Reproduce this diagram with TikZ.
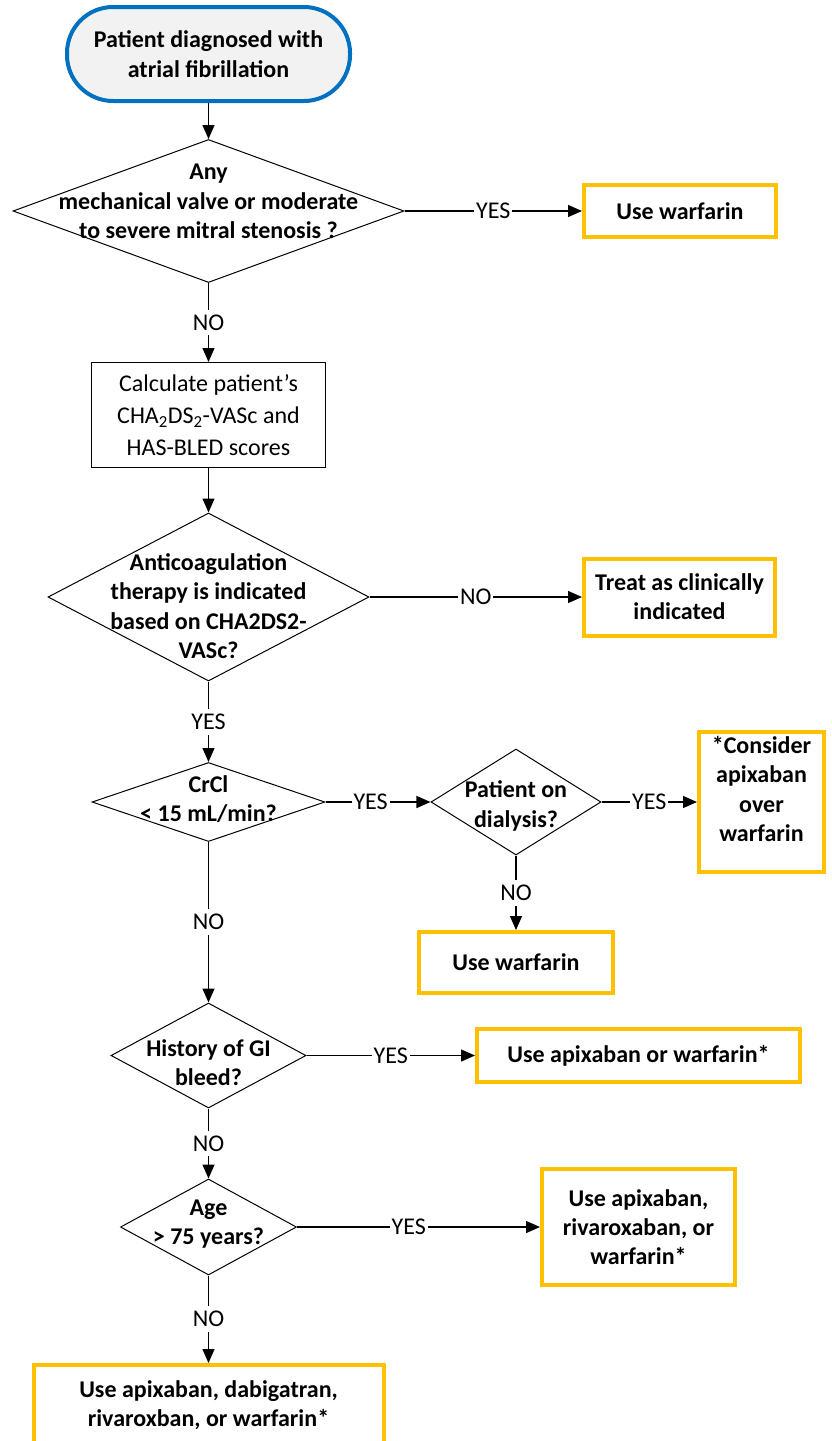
\documentclass[tikz,border=0pt]{standalone}
\usepackage{fontspec}
\setmainfont{Carlito}
\usetikzlibrary{shapes.geometric,arrows.meta}
\definecolor{flowblue}{HTML}{0070C0}
\definecolor{flowgold}{HTML}{FFC000}
\definecolor{startfill}{HTML}{F2F2F2}
\begin{document}
\begin{tikzpicture}[x=1pt,y=-1pt,
  regfont/.style={font=\fontsize{24}{29.3}\selectfont},
  boldfont/.style={font=\fontsize{24}{29.3}\selectfont\bfseries},
  terminal/.style={rectangle, rounded corners=46pt, draw=flowblue, line width=4pt,
    fill=startfill, align=center, boldfont, inner sep=0pt},
  decision/.style={diamond, draw, line width=1pt, inner sep=0pt},
  qtext/.style={align=center, boldfont, inner sep=0pt},
  outcome/.style={rectangle, draw=flowgold, line width=4pt, fill=white, align=center,
    boldfont, inner sep=0pt},
  process/.style={rectangle, draw, line width=1pt, align=center, inner sep=0pt,
    font=\fontsize{24}{32}\selectfont},
  flow/.style={line width=1.3pt, -{Triangle[length=14pt,width=12pt]}},
  lbl/.style={fill=white, inner xsep=2pt, inner ysep=5pt, regfont}
]
\useasboundingbox (0,0) rectangle (831,1441);

% main column
\node[terminal, minimum width=283pt, minimum height=94pt] (start) at (208.5,54)
  {Patient diagnosed with\\atrial fibrillation};

\node[decision, minimum width=391pt, minimum height=143pt] (valve) at (208.5,211) {};
\node[qtext] (valvetext) at (208.5,201.5)
  {Any\\mechanical valve or moderate\\to severe mitral stenosis ?};

\node[outcome, minimum width=192pt, minimum height=52pt] (warf1) at (680,211) {Use warfarin};

\node[process, minimum width=234pt, minimum height=105pt] (calc) at (208.5,415)
  {Calculate patient’s\\CHA\textsubscript{2}DS\textsubscript{2}-VASc and\\HAS-BLED scores};

\node[decision, minimum width=321pt, minimum height=168pt] (anticoag) at (208.5,597) {};
\node[qtext] (anticoagtext) at (208.5,606)
  {Anticoagulation\\therapy is indicated\\based on CHA2DS2-\\VASc?};

\node[outcome, minimum width=191pt, minimum height=77pt] (treat) at (679.5,597)
  {Treat as clinically\\indicated};

\node[decision, minimum width=233pt, minimum height=79pt] (crcl) at (208.5,802) {};
\node[qtext] (crcltext) at (208.5,799) {CrCl\\< 15 mL/min?};

\node[decision, minimum width=170pt, minimum height=106pt] (dialysis) at (516,802) {};
\node[qtext] (dialysistext) at (516,806) {Patient on\\dialysis?};

\node[outcome, minimum width=125pt, minimum height=140pt] (consider) at (761.5,802) {};
\node[qtext] (considertext) at (761.5,789) {*Consider\\apixaban\\over\\warfarin};

\node[outcome, minimum width=194pt, minimum height=61pt] (warf2) at (516,962.5) {Use warfarin};

\node[decision, minimum width=195pt, minimum height=105pt] (gi) at (208.5,1055.5) {};
\node[qtext] (gitext) at (208.5,1063) {History of GI\\bleed?};

\node[outcome, minimum width=323pt, minimum height=53pt] (apixwarf) at (638.5,1055.5)
  {Use apixaban or warfarin*};

\node[decision, minimum width=176pt, minimum height=96pt] (age) at (208.5,1227) {};
\node[qtext] (agetext) at (208.5,1224) {Age\\> 75 years?};

\node[outcome, minimum width=193pt, minimum height=116pt] (agebox) at (638.5,1227)
  {Use apixaban,\\rivaroxaban, or\\warfarin*};

\node[outcome, minimum width=350pt, minimum height=80pt] (final) at (208.5,1405)
  {Use apixaban, dabigatran,\\rivaroxban, or warfarin*};

% connectors
\draw[flow] (start) -- (valve);
\draw[flow] (valve) -- node[lbl] {YES} (warf1);
\draw[flow] (valve) -- node[lbl] {NO} (calc);
\draw[flow] (calc) -- (anticoag);
\draw[flow] (anticoag) -- node[lbl] {NO} (treat);
\draw[flow] (anticoag) -- node[lbl] {YES} (crcl);
\draw[flow] (crcl) -- node[lbl, pos=0.43] {YES} (dialysis);
\draw[flow] (dialysis) -- node[lbl] {YES} (consider);
\draw[flow] (dialysis) -- node[lbl] {NO} (warf2);
\draw[flow] (crcl) -- node[lbl] {NO} (gi);
\draw[flow] (gi) -- node[lbl] {YES} (apixwarf);
\draw[flow] (gi) -- node[lbl] {NO} (age);
\draw[flow] (age) -- node[lbl, pos=0.46] {YES} (agebox);
\draw[flow] (age) -- node[lbl] {NO} (final);
\end{tikzpicture}
\end{document}
